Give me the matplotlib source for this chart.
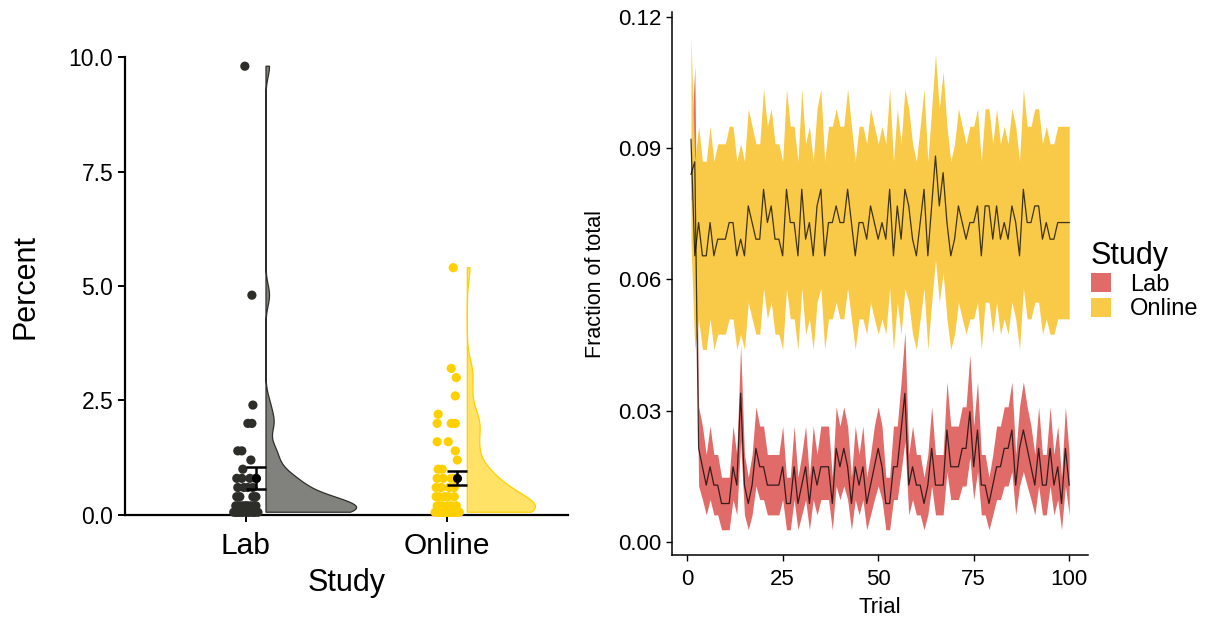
import numpy as np
import matplotlib
matplotlib.use("Agg")
import matplotlib.pyplot as plt
from matplotlib.patches import Patch, Polygon

plt.rcParams['font.family'] = ['Liberation Sans', 'DejaVu Sans']

# percent per participant, with a small horizontal jitter for the dots
lab_pct = [9.8, 4.8, 2.4, 2.0, 2.0, 1.4, 1.4, 1.2, 1.0,
           0.8, 0.8, 0.8, 0.8, 0.6, 0.6, 0.6, 0.6, 0.4, 0.4, 0.4, 0.4,
           0.2, 0.2, 0.2, 0.2, 0.2, 0.2, 0.2, 0.2, 0.2, 0.2,
           0.06, 0.06, 0.06, 0.06, 0.06, 0.06, 0.06, 0.06, 0.06, 0.06, 0.06, 0.06, 0.06, 0.06]
lab_jit = [-0.005, 0.03, 0.035, 0.01, 0.03, -0.04, -0.02, 0.025, -0.015,
           -0.045, -0.02, 0.05, 0.02, -0.04, 0.035, -0.01, 0.01, -0.045, -0.03, 0.035, 0.05,
           -0.03, 0.035, 0.005, -0.05, 0.05, -0.015, 0.02, -0.04, 0.045, 0.0,
           -0.06, -0.045, -0.03, -0.015, 0.0, 0.015, 0.03, 0.045, 0.06, -0.05, -0.02, 0.01, 0.04, -0.035]

online_pct = [5.4, 3.2, 3.0, 2.6, 2.2, 2.0, 2.0, 2.0, 1.6, 1.6, 1.4, 1.2, 1.0, 1.0,
              0.8, 0.8, 0.8, 0.8, 0.6, 0.6, 0.6, 0.6, 0.4, 0.4, 0.4, 0.4, 0.4,
              0.2, 0.2, 0.2, 0.2, 0.2, 0.2,
              0.06, 0.06, 0.06, 0.06, 0.06, 0.06, 0.06, 0.06, 0.06, 0.06, 0.06, 0.06, 0.06, 0.06, 0.06, 0.06]
online_jit = [0.03, 0.02, 0.045, 0.04, -0.045, -0.05, 0.02, 0.04, -0.05, 0.005, 0.04, 0.05, -0.045, -0.025,
              -0.05, -0.02, 0.04, 0.02, -0.055, -0.03, 0.035, 0.01,
              -0.04, -0.015, 0.035, 0.005, -0.055,
              -0.05, 0.0, 0.045, -0.025, 0.02, -0.04,
              -0.06, -0.045, -0.03, -0.015, 0.0, 0.015, 0.03, 0.045, 0.06,
              -0.05, -0.035, -0.02, -0.005, 0.01, 0.025, 0.04]

studies = ['Lab', 'Online']

# fraction of total per trial (mean and interval)
trial = np.arange(1, 101)
lab_mean = [.0840, .0869, .0214, .0172, .0130, .0172, .0130, .0130, .0088, .0088,
            .0088, .0172, .0130, .0340, .0130, .0088, .0130, .0214, .0172, .0172,
            .0130, .0130, .0130, .0130, .0172, .0088, .0088, .0172, .0088, .0130,
            .0172, .0088, .0172, .0130, .0172, .0172, .0172, .0088, .0214, .0172,
            .0214, .0172, .0088, .0172, .0130, .0172, .0088, .0130, .0172, .0214,
            .0172, .0088, .0088, .0172, .0172, .0256, .0340, .0130, .0172, .0130,
            .0130, .0088, .0130, .0214, .0130, .0130, .0130, .0256, .0172, .0172,
            .0172, .0214, .0214, .0298, .0172, .0256, .0130, .0130, .0088, .0130,
            .0172, .0172, .0214, .0214, .0256, .0130, .0214, .0256, .0214, .0172,
            .0130, .0214, .0130, .0130, .0214, .0130, .0172, .0088, .0214, .0130]
lab_hi = [.0900, .1086, .0309, .0265, .0200, .0265, .0200, .0200, .0148, .0148,
          .0148, .0265, .0200, .0450, .0200, .0148, .0200, .0309, .0265, .0265,
          .0200, .0200, .0200, .0200, .0265, .0148, .0148, .0265, .0148, .0200,
          .0265, .0148, .0265, .0200, .0265, .0265, .0265, .0148, .0309, .0265,
          .0309, .0265, .0148, .0265, .0200, .0265, .0148, .0200, .0265, .0309,
          .0265, .0148, .0148, .0265, .0265, .0366, .0480, .0200, .0265, .0200,
          .0200, .0148, .0200, .0309, .0200, .0200, .0200, .0366, .0265, .0265,
          .0265, .0309, .0309, .0428, .0265, .0366, .0200, .0200, .0148, .0200,
          .0265, .0265, .0309, .0309, .0366, .0200, .0309, .0366, .0309, .0265,
          .0200, .0309, .0200, .0200, .0309, .0200, .0265, .0148, .0309, .0200]
lab_lo = [.0780, .0800, .0128, .0097, .0062, .0097, .0062, .0062, .0028, .0028,
          .0028, .0097, .0062, .0230, .0062, .0028, .0062, .0128, .0097, .0097,
          .0062, .0062, .0062, .0062, .0097, .0028, .0028, .0097, .0028, .0062,
          .0097, .0028, .0097, .0062, .0097, .0097, .0097, .0028, .0128, .0097,
          .0128, .0097, .0028, .0097, .0062, .0097, .0028, .0062, .0097, .0128,
          .0097, .0028, .0028, .0097, .0097, .0161, .0230, .0062, .0097, .0062,
          .0062, .0028, .0062, .0128, .0062, .0062, .0062, .0161, .0097, .0097,
          .0097, .0128, .0128, .0193, .0097, .0161, .0062, .0062, .0028, .0062,
          .0097, .0097, .0128, .0128, .0161, .0062, .0128, .0161, .0128, .0097,
          .0062, .0128, .0062, .0062, .0128, .0062, .0097, .0028, .0128, .0062]

online_mean = [.0920, .0654, .0730, .0654, .0654, .0730, .0654, .0692, .0692, .0692,
               .0730, .0730, .0654, .0692, .0654, .0768, .0730, .0692, .0692, .0806,
               .0730, .0768, .0692, .0692, .0654, .0806, .0730, .0730, .0654, .0806,
               .0692, .0730, .0654, .0768, .0806, .0654, .0730, .0730, .0768, .0730,
               .0730, .0806, .0730, .0654, .0730, .0730, .0692, .0768, .0730, .0692,
               .0730, .0692, .0806, .0654, .0768, .0692, .0806, .0768, .0692, .0654,
               .0730, .0806, .0654, .0768, .0882, .0768, .0844, .0730, .0654, .0692,
               .0768, .0730, .0692, .0730, .0730, .0768, .0654, .0768, .0768, .0692,
               .0768, .0692, .0730, .0692, .0768, .0730, .0654, .0806, .0730, .0730,
               .0768, .0768, .0692, .0730, .0692, .0692, .0730, .0730, .0730, .0730]
online_hi = [.1155, .0870, .0950, .0870, .0870, .0950, .0870, .0910, .0910, .0910,
             .0950, .0950, .0870, .0910, .0870, .0990, .0950, .0910, .0910, .1035,
             .0950, .0990, .0910, .0910, .0870, .1035, .0950, .0950, .0870, .1035,
             .0910, .0950, .0870, .0990, .1035, .0870, .0950, .0950, .0990, .0950,
             .0950, .1035, .0950, .0870, .0950, .0950, .0910, .0990, .0950, .0910,
             .0950, .0910, .1035, .0870, .0990, .0910, .1035, .0990, .0910, .0870,
             .0950, .1035, .0870, .0990, .1115, .0990, .1075, .0950, .0870, .0910,
             .0990, .0950, .0910, .0950, .0950, .0990, .0870, .0990, .0990, .0910,
             .0990, .0910, .0950, .0910, .0990, .0950, .0870, .1035, .0950, .0950,
             .0990, .0990, .0910, .0950, .0910, .0910, .0950, .0950, .0950, .0950]
online_lo = [.0685, .0440, .0510, .0440, .0440, .0510, .0440, .0475, .0475, .0475,
             .0510, .0510, .0440, .0475, .0440, .0548, .0510, .0475, .0475, .0580,
             .0510, .0548, .0475, .0475, .0440, .0580, .0510, .0510, .0440, .0580,
             .0475, .0510, .0440, .0548, .0580, .0440, .0510, .0510, .0548, .0510,
             .0510, .0580, .0510, .0440, .0510, .0510, .0475, .0548, .0510, .0475,
             .0510, .0475, .0580, .0440, .0548, .0475, .0580, .0548, .0475, .0440,
             .0510, .0580, .0440, .0548, .0645, .0548, .0615, .0510, .0440, .0475,
             .0548, .0510, .0475, .0510, .0510, .0548, .0440, .0548, .0548, .0475,
             .0548, .0475, .0510, .0475, .0548, .0510, .0440, .0580, .0510, .0510,
             .0548, .0548, .0475, .0510, .0475, .0475, .0510, .0510, .0510, .0510]

dot_cols = ['#2d2d29', '#ffd000']
ribbon_cols = ['#e06b69', '#f9c948']


def kde(vals, grid):
    # gaussian kernel, bandwidth as in R's bw.nrd0
    vals = np.asarray(vals, dtype=float)
    n = len(vals)
    iqr = np.percentile(vals, 75) - np.percentile(vals, 25)
    bw = 0.9 * min(vals.std(ddof=1), iqr / 1.34) * n ** -0.2
    z = (grid[:, None] - vals[None, :]) / bw
    return np.exp(-0.5 * z ** 2).sum(axis=1) / (n * bw * np.sqrt(2 * np.pi))


fig = plt.figure(figsize=(12.07, 6.18), dpi=100)

# ---- left: raincloud of percent by study ----
ax1 = fig.add_axes([0.1036, 0.1667, 0.367, 0.741])
groups = [lab_pct, online_pct]
jits = [lab_jit, online_jit]

grids, dens = [], []
for vals in groups:
    g = np.linspace(min(vals), max(vals), 512)
    grids.append(g)
    dens.append(kde(vals, g))
scale = 0.45 / max(d.max() for d in dens)

for i, vals in enumerate(groups):
    pos = i + 1
    base = pos + 0.1
    g, d = grids[i], dens[i]
    xs = np.concatenate([[base], base + d * scale, [base]])
    ys = np.concatenate([[g[0]], g, [g[-1]]])
    ax1.add_patch(Polygon(np.column_stack([xs, ys]), closed=True,
                          facecolor=dot_cols[i], alpha=0.6, edgecolor='none'))
    ax1.add_patch(Polygon(np.column_stack([xs, ys]), closed=True,
                          facecolor='none', edgecolor=dot_cols[i], lw=0.9))
    ax1.scatter(pos + np.array(jits[i]), vals, s=44, color=dot_cols[i],
                edgecolors='none', zorder=3, clip_on=False)
    m = np.mean(vals)
    se = np.std(vals, ddof=1) / np.sqrt(len(vals))
    ax1.errorbar(pos + 0.05, m, yerr=se, fmt='o', color='black', ms=5.5,
                 capsize=7, elinewidth=1.8, capthick=1.8, zorder=4)

ax1.set_xlim(0.4, 2.6)
ax1.set_ylim(0, 10)
ax1.set_xticks([1, 2])
ax1.set_xticklabels(studies)
ax1.set_yticks([0, 2.5, 5, 7.5, 10])
ax1.set_yticklabels(['0.0', '2.5', '5.0', '7.5', '10.0'])
ax1.tick_params(length=5, width=1.4, colors='black')
ax1.tick_params(axis='y', labelsize=16.5)
ax1.tick_params(axis='x', labelsize=21.5, pad=7)
ax1.set_xlabel('Study', fontsize=22, labelpad=6)
ax1.set_ylabel('Percent', fontsize=22, labelpad=20)
for s in ['top', 'right']:
    ax1.spines[s].set_visible(False)
for s in ['left', 'bottom']:
    ax1.spines[s].set_linewidth(1.6)

# ---- right: fraction of total across trials ----
ax2 = fig.add_axes([0.5568, 0.1019, 0.3447, 0.8786])
ax2.fill_between(trial, lab_lo, lab_hi, color=ribbon_cols[0], lw=0)
ax2.fill_between(trial, online_lo, online_hi, color=ribbon_cols[1], lw=0)
ax2.plot(trial, lab_mean, color='black', lw=0.9, alpha=0.75)
ax2.plot(trial, online_mean, color='black', lw=0.9, alpha=0.75)

ax2.set_xlim(-3.95, 104.95)
ax2.set_ylim(-0.00297, 0.1211)
ax2.set_xticks([0, 25, 50, 75, 100])
ax2.set_yticks([0, 0.03, 0.06, 0.09, 0.12])
ax2.set_yticklabels(['0.00', '0.03', '0.06', '0.09', '0.12'])
ax2.tick_params(labelsize=16, length=4, width=1.0, colors='black')
ax2.tick_params(axis='x', pad=6)
ax2.set_xlabel('Trial', fontsize=16, labelpad=5)
ax2.set_ylabel('Fraction of total', fontsize=15.5, labelpad=9)
for s in ['top', 'right']:
    ax2.spines[s].set_visible(False)
for s in ['left', 'bottom']:
    ax2.spines[s].set_linewidth(1.1)

handles = [Patch(facecolor=ribbon_cols[i], edgecolor='none', label=studies[i]) for i in range(2)]
ax2.legend(handles=handles, title='Study', loc='center left', bbox_to_anchor=(0.995, 0.505),
           frameon=False, fontsize=17, title_fontsize=22, handlelength=0.85,
           handleheight=0.85, labelspacing=0.08, handletextpad=0.8,
           alignment='left', borderaxespad=0.0, borderpad=0.2)

fig.savefig('out.png', dpi=100)
